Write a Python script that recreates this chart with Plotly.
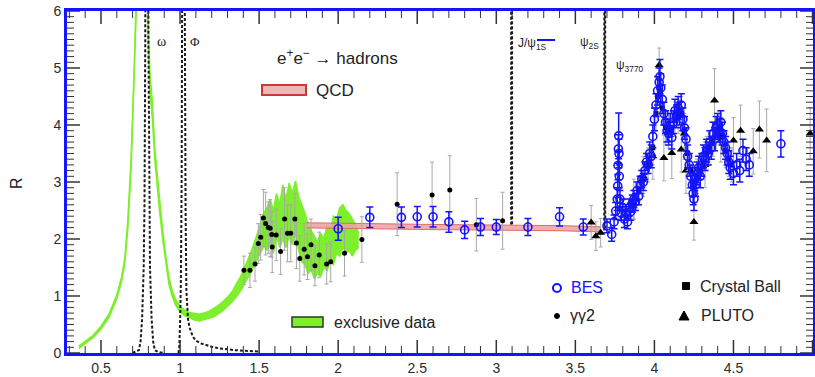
import plotly.graph_objects as go

# ---------------- data ----------------
# exclusive data band (lower / upper edge)
EX_E = [0.36, 0.40, 0.45, 0.50, 0.55, 0.60, 0.63, 0.65, 0.67, 0.69, 0.70, 0.71, 0.72, 0.735, 0.76,
        0.775, 0.79, 0.80, 0.81, 0.825, 0.84, 0.856, 0.87, 0.89, 0.91, 0.93, 0.95, 0.97, 1.00,
        1.03, 1.06, 1.09, 1.12, 1.15, 1.18, 1.21, 1.24, 1.27, 1.30, 1.33, 1.36, 1.39, 1.42,
        1.45, 1.48, 1.51, 1.53, 1.55, 1.57, 1.59, 1.61, 1.63, 1.65, 1.67, 1.69, 1.71, 1.73,
        1.75, 1.77, 1.79, 1.81, 1.83, 1.85, 1.87, 1.89, 1.91, 1.93, 1.95, 1.97, 1.99, 2.01,
        2.03, 2.05, 2.07, 2.09, 2.11, 2.13]
EX_LO = [0.08, 0.17, 0.27, 0.42, 0.62, 0.95, 1.25, 1.55, 2.2, 3.2, 4.0, 4.9, 6.0, 7.5, 8.5,
         8.0, 6.2, 5.3, 4.6, 4.1, 3.4, 2.9, 2.5, 2.0, 1.55, 1.2, 1.0, 0.85, 0.72,
         0.65, 0.62, 0.58, 0.56, 0.58, 0.60, 0.63, 0.68, 0.74, 0.82, 0.90, 1.00, 1.12, 1.28,
         1.42, 1.60, 1.78, 1.88, 1.80, 1.95, 1.75, 2.05, 1.85, 2.00, 1.85, 2.05, 1.90, 2.10,
         1.80, 1.60, 1.55, 1.40, 1.45, 1.30, 1.40, 1.35, 1.50, 1.45, 1.60, 1.55, 1.75, 1.70,
         1.85, 1.75, 1.80, 1.70, 1.80, 1.85]
EX_HI = [0.12, 0.21, 0.31, 0.47, 0.68, 1.02, 1.33, 1.65, 2.35, 3.4, 4.2, 5.1, 6.3, 7.8, 8.9,
         8.4, 6.5, 5.6, 4.9, 4.4, 3.6, 3.1, 2.7, 2.15, 1.7, 1.32, 1.1, 0.95, 0.82,
         0.75, 0.71, 0.70, 0.68, 0.70, 0.73, 0.78, 0.83, 0.90, 0.98, 1.08, 1.22, 1.38, 1.58,
         1.78, 2.02, 2.30, 2.45, 2.55, 2.70, 2.50, 2.80, 2.60, 2.95, 2.70, 2.98, 2.80, 3.02,
         2.75, 2.60, 2.45, 2.25, 2.15, 2.05, 1.95, 2.10, 2.00, 2.25, 2.15, 2.40, 2.35, 2.55,
         2.60, 2.50, 2.45, 2.35, 2.25, 2.10]

# narrow resonances (dashed)
OMEGA_E = [0.70, 0.72, 0.74, 0.75, 0.76, 0.77, 0.775, 0.78, 0.785, 0.79, 0.795, 0.80, 0.805,
           0.81, 0.82, 0.83, 0.84, 0.86, 0.90]
OMEGA_R = [0.0, 0.02, 0.05, 0.2, 0.6, 1.5, 2.6, 5.5, 15.0, 37.0, 15.0, 5.5, 2.6,
           1.5, 0.6, 0.2, 0.05, 0.02, 0.0]
PHI_E = [0.99, 0.995, 1.000, 1.005, 1.010, 1.015, 1.020, 1.025, 1.030, 1.035, 1.040, 1.05,
         1.06, 1.08, 1.10, 1.13, 1.16, 1.20, 1.25, 1.30, 1.35, 1.40, 1.45, 1.50]
PHI_R = [0.0, 0.1, 0.5, 1.2, 3.0, 8.0, 25.0, 12.0, 6.0, 2.5, 1.1, 0.6,
         0.45, 0.29, 0.22, 0.17, 0.14, 0.11, 0.08, 0.06, 0.05, 0.04, 0.03, 0.025]
JPSI_E = [3.094, 3.097, 3.100]
JPSI_R = [2.25, 60.0, 2.25]
PSI2S_E = [3.683, 3.686, 3.689]
PSI2S_R = [2.15, 60.0, 2.15]

# perturbative QCD band
QCD_E = [1.80, 2.20, 2.60, 3.00, 3.40, 3.66]
QCD_LO = [2.195, 2.175, 2.165, 2.155, 2.145, 2.125]
QCD_HI = [2.285, 2.265, 2.255, 2.245, 2.235, 2.215]

# gamma gamma 2
GG2_E = [1.404, 1.442, 1.474, 1.495, 1.51, 1.527, 1.541, 1.558, 1.57, 1.58, 1.583, 1.608, 1.636,
         1.661, 1.68, 1.70, 1.726, 1.736, 1.757, 1.785, 1.806, 1.828, 1.853, 1.88, 1.927,
         1.953, 2.04, 2.15, 2.373, 2.594, 2.706, 2.874, 3.04]
GG2_R = [1.45, 1.45, 1.56, 1.92, 2.03, 2.37, 2.27, 2.20, 2.19, 2.08, 1.86, 2.07, 1.78,
         2.35, 2.10, 2.10, 2.35, 1.93, 1.66, 1.82, 1.69, 1.90, 1.53, 1.72, 1.56,
         1.60, 1.75, 1.99, 2.61, 2.77, 2.86, 2.25, 2.32]
GG2_ERR = [0.25, 0.30, 0.30, 0.35, 0.40, 0.50, 0.55, 0.45, 0.50, 0.40, 0.45, 0.45, 0.40,
           0.55, 0.50, 0.50, 0.45, 0.45, 0.40, 0.45, 0.40, 0.45, 0.35, 0.40, 0.35,
           0.35, 0.40, 0.40, 0.55, 0.58, 0.60, 0.46, 0.50]

# BES
BES_E = [2.00, 2.20, 2.40, 2.50, 2.60, 2.70, 2.80, 2.90, 3.00, 3.20, 3.40, 3.55, 3.70, 3.73,
         3.745, 3.755, 3.765, 3.768, 3.770, 3.772, 3.774, 3.776, 3.778, 3.782, 3.79, 3.80,
         3.81, 3.82, 3.83, 3.84, 3.85, 3.86, 3.87, 3.88, 3.89, 3.90, 3.91, 3.92, 3.93, 3.94,
         3.95, 3.96, 3.97, 3.98, 3.99, 4.00, 4.01, 4.02, 4.03, 4.035, 4.04, 4.05, 4.06, 4.07,
         4.08, 4.09, 4.10, 4.11, 4.12, 4.13, 4.14, 4.15, 4.16, 4.17, 4.18, 4.19, 4.20, 4.21,
         4.22, 4.23, 4.24, 4.245, 4.25, 4.255, 4.26, 4.27, 4.28, 4.29, 4.30, 4.31, 4.32, 4.33,
         4.34, 4.35, 4.36, 4.37, 4.38, 4.39, 4.40, 4.41, 4.42, 4.43, 4.44, 4.45, 4.46, 4.47,
         4.48, 4.50, 4.52, 4.54, 4.56, 4.58, 4.60, 4.80]
BES_R = [2.18, 2.38, 2.38, 2.39, 2.39, 2.30, 2.16, 2.21, 2.21, 2.21, 2.39, 2.21, 2.23, 2.08,
         2.30, 2.49, 2.70, 2.93, 3.29, 3.58, 3.81, 3.50, 3.10, 2.70, 2.45, 2.55,
         2.35, 2.45, 2.30, 2.55, 2.48, 2.62, 2.70, 2.65, 2.85, 2.75, 2.95, 3.05, 3.00, 3.20,
         3.35, 3.30, 3.50, 3.45, 3.80, 4.10, 4.35, 4.60, 4.75, 4.85, 4.65, 4.45, 4.20, 4.05,
         3.90, 3.85, 4.00, 3.78, 4.05, 4.25, 4.15, 4.30, 4.20, 4.35, 4.10, 3.95, 3.75, 3.45,
         3.30, 3.10, 2.95, 2.80, 2.70, 3.05, 2.95, 3.15, 3.25, 3.10, 3.30, 3.45, 3.40, 3.55,
         3.50, 3.70, 3.60, 3.85, 3.75, 3.95, 4.00, 3.90, 4.05, 3.85, 3.70, 3.60, 3.50, 3.35,
         3.25, 3.15, 3.30, 3.20, 3.55, 3.40, 3.30, 3.67]
BES_ERR = [0.20, 0.18, 0.18, 0.18, 0.18, 0.18, 0.15, 0.15, 0.13, 0.15, 0.16, 0.14, 0.12, 0.12,
           0.12, 0.15, 0.20, 0.20, 0.25, 0.25, 0.40, 0.25, 0.20, 0.15, 0.12, 0.15,
           0.15, 0.12, 0.12, 0.15, 0.15, 0.15, 0.15, 0.15, 0.15, 0.15, 0.15, 0.15, 0.15, 0.15,
           0.15, 0.15, 0.20, 0.20, 0.20, 0.20, 0.20, 0.25, 0.25, 0.30, 0.25, 0.25, 0.20, 0.20,
           0.20, 0.20, 0.20, 0.20, 0.20, 0.20, 0.20, 0.20, 0.20, 0.20, 0.20, 0.20, 0.20, 0.20,
           0.20, 0.20, 0.20, 0.20, 0.20, 0.20, 0.20, 0.20, 0.20, 0.20, 0.20, 0.20, 0.20, 0.20,
           0.20, 0.20, 0.20, 0.20, 0.20, 0.20, 0.20, 0.20, 0.20, 0.20, 0.20, 0.20, 0.20, 0.20,
           0.20, 0.20, 0.20, 0.20, 0.20, 0.20, 0.20, 0.23]

# Crystal Ball
CB_E = [3.87, 3.90, 3.93, 3.96, 3.99, 4.01, 4.02, 4.035, 4.05, 4.07, 4.09, 4.11, 4.13, 4.15,
        4.17, 4.19, 4.21, 4.23, 4.25, 4.27, 4.29, 4.31, 4.33, 4.35, 4.37, 4.39, 4.41, 4.43,
        4.45, 4.47, 4.49]
CB_R = [2.60, 2.85, 3.05, 3.30, 3.60, 4.20, 4.50, 4.60, 4.30, 3.95, 3.90, 3.95, 4.10, 4.15,
        4.20, 3.90, 3.50, 3.20, 2.95, 3.10, 3.20, 3.35, 3.50, 3.60, 3.75, 3.85, 3.95, 3.80,
        3.55, 3.40, 3.30]
CB_ERR = [0.25, 0.25, 0.25, 0.30, 0.30, 0.30, 0.30, 0.30, 0.30, 0.30, 0.30, 0.30, 0.30, 0.30,
          0.30, 0.30, 0.30, 0.30, 0.30, 0.30, 0.30, 0.30, 0.30, 0.30, 0.30, 0.30, 0.30, 0.30,
          0.30, 0.30, 0.30]

# PLUTO
PL_E = [3.60, 3.63, 3.66, 3.87, 3.93, 3.99, 4.03, 4.06, 4.11, 4.17, 4.19, 4.20, 4.25, 4.32,
        4.38, 4.42, 4.50, 4.545, 4.625, 4.664, 4.71, 4.985]
PL_R = [2.29, 2.05, 2.11, 2.70, 3.10, 3.45, 5.05, 3.42, 3.51, 3.57, 3.85, 3.20, 2.30, 3.30,
        4.43, 3.80, 3.73, 3.90, 3.54, 3.92, 3.73, 3.85]
PL_ERR = [0.30, 0.25, 0.25, 0.35, 0.35, 0.40, 0.30, 0.40, 0.45, 0.40, 0.45, 0.40, 0.32, 0.40,
          0.56, 0.45, 0.40, 0.45, 0.40, 0.50, 0.55, 0.45]

# axis ticks
X_TICKS = [0.5, 1, 1.5, 2, 2.5, 3, 3.5, 4, 4.5, 5]
X_TICK_TEXT = ["0.5", "1", "1.5", "2", "2.5", "3", "3.5", "4", "4.5", "5"]
Y_TICKS = [0, 1, 2, 3, 4, 5, 6]
Y_TICK_TEXT = ["0", "1", "2", "3", "4", "5", "6"]
X_MINOR = [round(0.3 + 0.1 * i, 1) for i in range(47) if round(0.3 + 0.1 * i, 1) not in X_TICKS]
Y_MINOR = [round(0.1 * i, 1) for i in range(61) if round(0.1 * i, 1) not in Y_TICKS]

# ---------------- styles ----------------
BLUE = "#1414ff"
GREEN = "#7eef2c"
TICKC = "#333333"
FONT = "Liberation Sans, Arial, Helvetica, sans-serif"
SERIF = "Liberation Serif, Times New Roman, serif"
DASH = dict(color="#1a1a1a", width=2, dash="3px,2px")
MAJOR_LEN, MINOR_LEN = 13, 7

fig = go.Figure()

fig.add_trace(go.Scatter(x=EX_E, y=EX_LO, mode="lines", line=dict(color=GREEN, width=1.5),
                         hoverinfo="skip", showlegend=False))
fig.add_trace(go.Scatter(x=EX_E, y=EX_HI, mode="lines", fill="tonexty", fillcolor=GREEN,
                         line=dict(color=GREEN, width=1.5), hoverinfo="skip", showlegend=False))

for ex, ry in [(OMEGA_E, OMEGA_R), (PHI_E, PHI_R), (JPSI_E, JPSI_R), (PSI2S_E, PSI2S_R)]:
    fig.add_trace(go.Scatter(x=ex, y=ry, mode="lines", line=DASH, showlegend=False))

fig.add_trace(go.Scatter(x=QCD_E, y=QCD_LO, mode="lines", line=dict(color="#dd6a6a", width=1),
                         showlegend=False))
fig.add_trace(go.Scatter(x=QCD_E, y=QCD_HI, mode="lines", fill="tonexty",
                         fillcolor="rgba(240,160,160,0.85)", line=dict(color="#dd6a6a", width=1),
                         showlegend=False))

fig.add_trace(go.Scatter(x=GG2_E, y=GG2_R, mode="markers",
                         marker=dict(color="black", size=5),
                         error_y=dict(type="data", array=GG2_ERR, color="#a8a8a8", thickness=1, width=2),
                         showlegend=False))
fig.add_trace(go.Scatter(x=PL_E, y=PL_R, mode="markers",
                         marker=dict(color="black", size=8, symbol="triangle-up"),
                         error_y=dict(type="data", array=PL_ERR, color="#a8a8a8", thickness=1, width=2),
                         showlegend=False))
fig.add_trace(go.Scatter(x=CB_E, y=CB_R, mode="markers",
                         marker=dict(color="black", size=5, symbol="square"),
                         error_y=dict(type="data", array=CB_ERR, color="#a8a8a8", thickness=1, width=2),
                         showlegend=False))
fig.add_trace(go.Scatter(x=BES_E, y=BES_R, mode="markers",
                         marker=dict(color=BLUE, size=8, symbol="circle-open",
                                     line=dict(color=BLUE, width=1.6)),
                         error_y=dict(type="data", array=BES_ERR, color=BLUE, thickness=1.5, width=3.5),
                         showlegend=False))

# tick marks on all four sides, placed through the axis scales
shapes = []
for vals, ln, w in [(X_TICKS, MAJOR_LEN, 1.5), (X_MINOR, MINOR_LEN, 1)]:
    for v in vals:
        for anc, a, b in [(0, 0, ln), (1, -ln, 0)]:
            shapes.append(dict(type="line", xref="x", yref="paper", ysizemode="pixel", yanchor=anc,
                               x0=v, x1=v, y0=a, y1=b, line=dict(color=TICKC, width=w)))
for vals, ln, w in [(Y_TICKS, MAJOR_LEN, 1.5), (Y_MINOR, MINOR_LEN, 1)]:
    for v in vals:
        for anc, a, b in [(0, 0, ln), (1, -ln, 0)]:
            shapes.append(dict(type="line", yref="y", xref="paper", xsizemode="pixel", xanchor=anc,
                               y0=v, y1=v, x0=a, x1=b, line=dict(color=TICKC, width=w)))

fig.update_layout(
    width=815, height=377,
    margin=dict(l=67, r=2, t=11, b=24),
    paper_bgcolor="white", plot_bgcolor="white",
    showlegend=False,
    font=dict(family=FONT, color="#222222"),
    shapes=shapes,
    xaxis=dict(range=[0.285, 5.003], tickmode="array", tickvals=X_TICKS, ticktext=X_TICK_TEXT,
               ticks="", showline=True, linecolor=BLUE, linewidth=3, mirror=True,
               showgrid=False, zeroline=False, automargin=False,
               tickfont=dict(size=14, color="#2b2b2b")),
    yaxis=dict(range=[0, 6], tickmode="array", tickvals=Y_TICKS, ticktext=Y_TICK_TEXT,
               ticks="", showline=True, linecolor=BLUE, linewidth=3, mirror=True,
               showgrid=False, zeroline=False, automargin=False,
               tickfont=dict(size=14, color="#2b2b2b")),
)

fig.add_shape(type="rect", xref="paper", yref="paper", x0=0.2614, x1=0.3204, y0=0.7544, y1=0.7836,
              line=dict(color="#c83a3a", width=2), fillcolor="#f2b6b6")
fig.add_shape(type="rect", xref="paper", yref="paper", x0=0.3016, x1=0.3432, y0=0.076, y1=0.1053,
              line=dict(color="#2e3a22", width=1.5), fillcolor=GREEN)
fig.add_shape(type="circle", xref="paper", yref="paper", xsizemode="pixel", ysizemode="pixel",
              xanchor=0.6568, yanchor=0.1901, x0=-4, x1=4, y0=-4, y1=4,
              line=dict(color=BLUE, width=2), fillcolor="rgba(0,0,0,0)")
fig.add_shape(type="circle", xref="paper", yref="paper", xsizemode="pixel", ysizemode="pixel",
              xanchor=0.6568, yanchor=0.1082, x0=-2.5, x1=2.5, y0=-2.5, y1=2.5,
              line=dict(color="black", width=1), fillcolor="black")
fig.add_shape(type="rect", xref="paper", yref="paper", xsizemode="pixel", ysizemode="pixel",
              xanchor=0.8298, yanchor=0.1959, x0=-3.5, x1=3.5, y0=-3.5, y1=3.5,
              line=dict(color="black", width=1), fillcolor="black")
fig.add_shape(type="path", xref="paper", yref="paper", xsizemode="pixel", ysizemode="pixel",
              xanchor=0.8271, yanchor=0.1082, path="M -5,-4 L 5,-4 L 0,5 Z",
              line=dict(color="black", width=1), fillcolor="black")
fig.add_shape(type="line", xref="paper", yref="paper", x0=0.630, x1=0.6542, y0=0.9152, y1=0.9152,
              line=dict(color=BLUE, width=2))

def ann(text, x, y, size=16, color="#222222", family=FONT, xanchor="left", angle=0):
    fig.add_annotation(text=text, x=x, y=y, xref="paper", yref="paper", showarrow=False,
                       xanchor=xanchor, yanchor="middle", textangle=angle,
                       font=dict(family=family, size=size, color=color))

ann("R", -0.0684, 0.497, size=16, xanchor="center", angle=-90)
ann("e<sup>+</sup>e<sup>−</sup> → hadrons", 0.2788, 0.8655, size=17)
ann("QCD", 0.3311, 0.769, size=17)
ann("exclusive data", 0.3552, 0.0906, size=16)
ann("BES", 0.6729, 0.1901, size=16, color=BLUE)
ann("γγ2", 0.6716, 0.1082, size=16)
ann("Crystal Ball", 0.8458, 0.1959, size=16)
ann("PLUTO", 0.8472, 0.1082, size=16)
ann("ω", 0.1273, 0.9094, size=14, family=SERIF, xanchor="center")
ann("Φ", 0.1716, 0.9094, size=13, family=SERIF, xanchor="center")
ann("J/ψ<sub>1S</sub>", 0.6019, 0.9035, size=12)
ann("ψ<sub>2S</sub>", 0.685, 0.9064, size=12)
ann("ψ<sub>3770</sub>", 0.7332, 0.8392, size=12)

fig.write_html("out.html")
